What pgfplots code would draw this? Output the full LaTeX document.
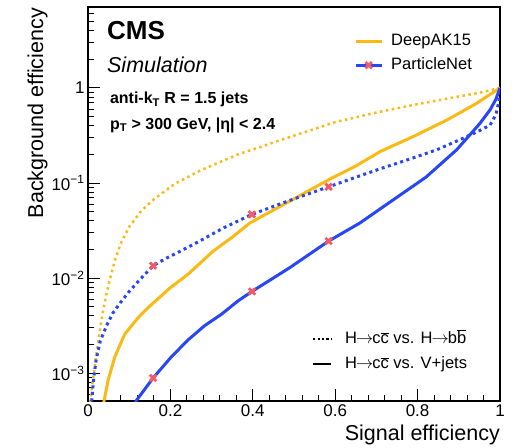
\documentclass[border=0pt]{standalone}
\usepackage{pgfplots}
\pgfplotsset{compat=1.18}
\usepackage{fontspec}
\setmainfont{Liberation Sans}

\definecolor{akorange}{RGB}{250,185,20}
\definecolor{pnblue}{RGB}{40,70,245}
\definecolor{wpred}{RGB}{245,90,100}

\newcommand{\ob}[1]{\ensuremath{\overline{\hbox{#1}}}}
\newcommand{\ra}{\ensuremath{\mkern-1mu\rightarrow\mkern-1mu}}

\begin{document}
\begin{tikzpicture}
\begin{axis}[
  name=main,
  scale only axis,
  width=412bp, height=394bp,
  xmin=0, xmax=1,
  ymode=log, ymin=5.1e-4, ymax=7.1,
  axis line style={line width=1.4bp},
  tick align=inside,
  xtick pos=bottom, ytick pos=left,
  xtick={0,0.2,0.4,0.6,0.8,1},
  xticklabels={0,0.2,0.4,0.6,0.8,1},
  minor x tick num=4,
  ytick={1e-3,1e-2,1e-1,1},
  yticklabels={10\textsuperscript{−3},10\textsuperscript{−2},10\textsuperscript{−1},1},
  minor ytick={6e-4,7e-4,8e-4,9e-4,2e-3,3e-3,4e-3,5e-3,6e-3,7e-3,8e-3,9e-3,
               2e-2,3e-2,4e-2,5e-2,6e-2,7e-2,8e-2,9e-2,0.2,0.3,0.4,0.5,0.6,0.7,0.8,0.9,
               2,3,4,5,6,7},
  major tick length=12bp, minor tick length=6bp,
  every tick/.style={black, line width=1bp},
  tick label style={font=\fontsize{17bp}{20bp}\selectfont},
  legend style={draw=none, fill=none, at={(0.6456,0.934)}, anchor=north west,
    font=\fontsize{16.5bp}{19bp}\selectfont, inner sep=0pt, row sep=8bp, column sep=8bp,
    nodes={inner sep=0pt, text height=12bp, text depth=4bp}},
  legend cell align=left,
  legend image code/.code={\draw[mark repeat=2, mark phase=2, #1] plot coordinates {(0bp,0bp)(13bp,0bp)(26bp,0bp)};},
]
\addlegendimage{akorange, line width=3bp}
\addlegendentry{DeepAK15}
\addlegendimage{pnblue, line width=3bp, mark=x, mark size=4.5bp, mark options={wpred, line width=2.8bp, solid}}
\addlegendentry{ParticleNet}

% DeepAK15, H->cc vs. H->bb
\addplot[akorange, line width=2.5bp, dash pattern=on 2.5bp off 3.5bp, forget plot] coordinates {
(0.004,3.2e-4)(0.006,5.13e-4)(0.011,7.94e-4)(0.015,1.05e-3)(0.021,1.66e-3)(0.028,2.69e-3)
(0.035,4.17e-3)(0.044,6.61e-3)(0.054,0.0100)(0.066,0.0158)(0.08,0.0234)(0.10,0.0347)
(0.13,0.0513)(0.16,0.0676)(0.21,0.0977)(0.272,0.135)(0.32,0.166)(0.369,0.204)(0.42,0.240)
(0.466,0.282)(0.53,0.347)(0.6,0.437)(0.709,0.562)(0.8,0.676)(0.9,0.813)(0.95,0.891)(1,1)};

% DeepAK15, H->cc vs. V+jets
\addplot[akorange, line width=3bp, forget plot] coordinates {
(0.035,3.98e-4)(0.039,5.13e-4)(0.049,8.5e-4)(0.065,1.48e-3)(0.089,2.57e-3)(0.121,3.8e-3)
(0.146,4.9e-3)(0.2,7.94e-3)(0.243,0.0110)(0.303,0.0191)(0.35,0.0269)(0.393,0.0380)
(0.49,0.0646)(0.587,0.110)(0.65,0.151)(0.709,0.214)(0.79,0.309)(0.87,0.457)(0.94,0.676)(1,1)};

% ParticleNet, H->cc vs. H->bb
\addplot[pnblue, line width=3bp, dash pattern=on 3bp off 3.5bp, forget plot] coordinates {
(0.006,3.16e-4)(0.009,5.13e-4)(0.014,8.9e-4)(0.02,1.41e-3)(0.03,2.19e-3)(0.045,3.16e-3)
(0.06,4.27e-3)(0.08,5.62e-3)(0.10,7.24e-3)(0.125,9.55e-3)(0.158,0.0135)
(0.19,0.0162)(0.223,0.0191)(0.267,0.024)(0.33,0.0339)(0.398,0.0468)(0.485,0.0646)
(0.584,0.0912)(0.65,0.115)(0.709,0.141)(0.78,0.178)(0.847,0.224)(0.91,0.295)(0.95,0.355)
(0.976,0.407)(0.99,0.525)(0.997,0.708)(1,1)};

% ParticleNet, H->cc vs. V+jets
\addplot[pnblue, line width=3bp, forget plot] coordinates {
(0.105,3.98e-4)(0.117,5.13e-4)(0.158,8.9e-4)(0.202,1.48e-3)(0.243,2.24e-3)(0.283,3.16e-3)
(0.324,4.17e-3)(0.364,5.75e-3)(0.398,7.24e-3)(0.49,0.0129)(0.584,0.0245)(0.66,0.038)
(0.733,0.063)(0.82,0.115)(0.895,0.224)(0.95,0.417)(0.976,0.589)(0.99,0.76)(1,1)};

% ParticleNet working points
\addplot[only marks, mark=x, mark size=4.5bp, mark options={wpred, line width=2.8bp}, forget plot] coordinates {
(0.158,0.0135)(0.398,0.0468)(0.584,0.0912)
(0.158,8.9e-4)(0.398,7.24e-3)(0.584,0.0245)};

\node[anchor=base west, inner sep=0pt, font=\fontsize{26bp}{30bp}\selectfont\bfseries] at (rel axis cs:0.046,0.918) {CMS};
\node[anchor=base west, inner sep=0pt, font=\fontsize{21.5bp}{25bp}\selectfont\itshape] at (rel axis cs:0.046,0.833) {Simulation};
\node[anchor=base west, inner sep=0pt, font=\fontsize{16bp}{19bp}\selectfont\bfseries] at (rel axis cs:0.053,0.755) {anti-k\textsubscript{T} R = 1.5 jets};
\node[anchor=base west, inner sep=0pt, font=\fontsize{16bp}{19bp}\selectfont\bfseries] at (rel axis cs:0.053,0.69) {p\textsubscript{T} > 300 GeV, |η| < 2.4};
\end{axis}

% axis titles
\node[anchor=base east, inner sep=0pt, rotate=90, font=\fontsize{21.5bp}{25bp}\selectfont]
  at ([xshift=-45bp,yshift=-1bp]main.north west) {Background efficiency};
\node[anchor=base east, inner sep=0pt, font=\fontsize{21.5bp}{25bp}\selectfont]
  at ([yshift=-39bp]main.south east) {Signal efficiency};

% second legend: line styles
\begin{axis}[
  at={(main.south west)}, anchor=south west,
  scale only axis, width=412bp, height=394bp,
  hide axis, xmin=0, xmax=1, ymin=0, ymax=1,
  legend style={draw=none, fill=none, at={(0.5437,0.178)}, anchor=north west,
    font=\fontsize{16.5bp}{19bp}\selectfont, inner sep=0pt, row sep=9bp, column sep=13bp,
    nodes={inner sep=0pt, text height=12bp, text depth=4bp}},
  legend cell align=left,
  legend image code/.code={\draw[#1] (0bp,0bp) -- (18bp,0bp);},
]
\addlegendimage{black, line width=2bp, dash pattern=on 2.2bp off 2.2bp}
\addlegendentry{H\ra c\ob{c} vs. H\ra b\ob{b}}
\addlegendimage{black, line width=2bp}
\addlegendentry{H\ra c\ob{c} vs. V+jets}
\end{axis}

\path (main.south west) ++(-88bp,-47bp) (main.north east) ++(19bp,7bp);
\end{tikzpicture}
\end{document}
